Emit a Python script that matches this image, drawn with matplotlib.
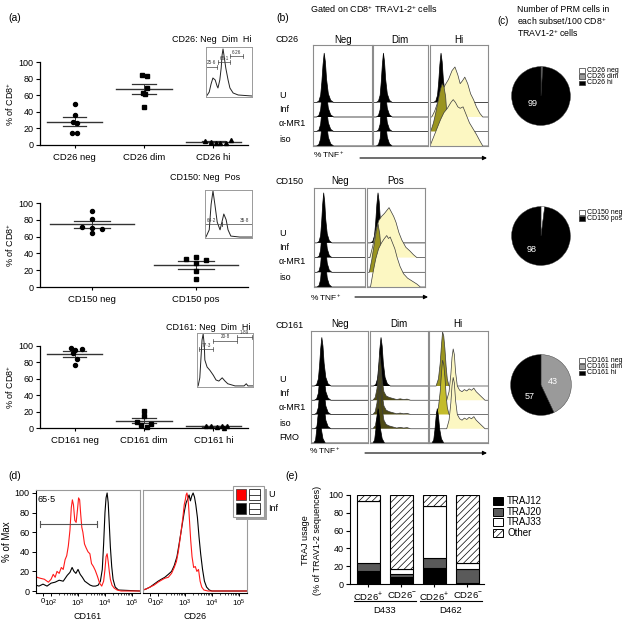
import numpy as np
import matplotlib
matplotlib.use('Agg')
import matplotlib.pyplot as plt
from matplotlib.patches import Rectangle

W, H = 627, 621
plt.rcParams['font.family'] = ['Liberation Sans', 'DejaVu Sans']
plt.rcParams['mathtext.fontset'] = 'custom'
plt.rcParams['mathtext.rm'] = 'Liberation Sans'
plt.rcParams['mathtext.it'] = 'Liberation Sans:italic'
plt.rcParams['mathtext.bf'] = 'Liberation Sans:bold'
plt.rcParams['hatch.linewidth'] = 0.5

# ---------------- data ----------------
# (a) % of CD8+ cells per donor
cd26_cats = ['CD26 neg', 'CD26 dim', 'CD26 hi']
cd26_vals = [[50, 36, 28, 26, 15, 14], [84, 83, 69, 63, 62, 46], [5, 4, 3, 3, 2, 6]]
cd150_cats = ['CD150 neg', 'CD150 pos']
cd150_vals = [[91, 81, 72, 70, 69, 64], [36, 33, 32, 28, 19, 9]]
cd161_cats = ['CD161 neg', 'CD161 dim', 'CD161 hi']
cd161_vals = [[98, 95, 96, 91, 84, 77], [21, 15, 7, 5, 4, 1], [3, 2, 1, 2, 3, 0]]

# (a) inset gate percentages and histogram traces (fraction of inset width / height)
cd26_gates = ['25·6', '68·1', '6·26']
cd150_gates = ['64·2', '35·8']
cd161_gates = ['77·3', '20·8', '1·89']
cd26_inset_x = [0.00, 0.02, 0.07, 0.11, 0.15, 0.20, 0.24, 0.26, 0.30, 0.33, 0.35, 0.37, 0.39, 0.43, 0.48, 0.52, 0.59, 0.70, 1.00]
cd26_inset_y = [0.02, 0.03, 0.10, 0.26, 0.38, 0.34, 0.22, 0.18, 0.34, 0.58, 0.84, 0.96, 0.84, 0.58, 0.34, 0.18, 0.08, 0.04, 0.02]
cd150_inset_x = [0.00, 0.02, 0.09, 0.13, 0.17, 0.21, 0.26, 0.32, 0.36, 0.40, 0.45, 0.49, 0.55, 0.74, 1.00]
cd150_inset_y = [0.02, 0.02, 0.17, 0.70, 0.98, 0.70, 0.33, 0.17, 0.33, 0.50, 0.38, 0.17, 0.04, 0.02, 0.02]
cd161_inset_x = [0.00, 0.02, 0.05, 0.09, 0.11, 0.13, 0.14, 0.18, 0.23, 0.29, 0.34, 0.39, 0.45, 0.50, 0.55, 0.68, 0.84, 0.88, 0.91, 1.00]
cd161_inset_y = [0.02, 0.02, 0.17, 0.87, 0.98, 0.78, 0.50, 0.37, 0.31, 0.22, 0.13, 0.11, 0.17, 0.11, 0.06, 0.02, 0.02, 0.06, 0.02, 0.02]

# (b) TNF histogram traces: x = fraction of box width, y = height in lane units
spike_x = [0.00, 0.06, 0.10, 0.13, 0.15, 0.17, 0.19, 0.21, 0.23, 0.26, 0.30, 0.35, 1.00]
spike_y = [0.00, 0.00, 0.10, 0.50, 1.40, 2.60, 3.40, 2.80, 1.60, 0.60, 0.15, 0.00, 0.00]
fmo_x = [0.00, 0.05, 0.08, 0.10, 0.12, 0.14, 0.16, 0.18, 0.21, 0.25, 1.00]
fmo_y = [0.00, 0.00, 0.20, 0.90, 1.80, 2.40, 1.90, 1.00, 0.30, 0.00, 0.00]
cd26hi_inf_x = [0.00, 0.03, 0.08, 0.14, 0.20, 0.26, 0.32, 0.38, 0.43, 0.48, 0.52, 0.56, 0.60, 0.65, 0.70, 0.75, 0.80, 0.86, 0.91, 1.00]
cd26hi_inf_y = [0.00, 0.00, 0.40, 1.10, 1.70, 2.20, 2.60, 3.20, 3.45, 2.90, 2.30, 2.50, 2.75, 2.30, 1.60, 1.20, 0.70, 0.25, 0.00, 0.00]
cd26hi_mr1_x = [0.00, 0.02, 0.06, 0.10, 0.14, 0.18, 0.21, 0.24, 0.27, 0.29, 0.31, 1.00]
cd26hi_mr1_y = [0.00, 0.10, 0.60, 1.30, 2.10, 2.90, 3.30, 3.10, 2.40, 1.20, 0.00, 0.00]
cd26hi_iso_x = [0.00, 0.01, 0.06, 0.12, 0.18, 0.24, 0.30, 0.36, 0.40, 0.44, 0.48, 0.52, 0.57, 0.62, 0.68, 0.74, 0.80, 0.86, 0.91, 1.00]
cd26hi_iso_y = [0.00, 0.10, 0.60, 1.20, 1.80, 2.30, 2.60, 3.00, 3.20, 3.00, 2.70, 2.60, 2.70, 2.20, 1.60, 1.20, 0.80, 0.35, 0.00, 0.00]
cd150pos_inf_x = [0.00, 0.05, 0.10, 0.15, 0.20, 0.25, 0.30, 0.34, 0.38, 0.42, 0.46, 0.50, 0.55, 0.60, 0.67, 0.74, 0.80, 0.86, 1.00]
cd150pos_inf_y = [0.00, 0.00, 0.80, 1.80, 2.50, 2.80, 3.00, 3.20, 3.40, 3.10, 2.80, 2.40, 1.70, 1.20, 0.70, 0.45, 0.20, 0.00, 0.00]
cd150pos_mr1_x = [0.00, 0.04, 0.08, 0.12, 0.16, 0.19, 0.22, 0.25, 0.28, 1.00]
cd150pos_mr1_y = [0.00, 0.00, 0.80, 1.80, 2.80, 3.30, 2.60, 1.20, 0.00, 0.00]
cd150pos_iso_x = [0.00, 0.06, 0.10, 0.15, 0.20, 0.25, 0.30, 0.34, 0.37, 0.40, 0.44, 0.48, 0.52, 0.57, 0.63, 0.70, 0.78, 0.86, 0.92, 1.00]
cd150pos_iso_y = [0.00, 0.00, 0.90, 1.90, 2.60, 3.00, 3.30, 3.50, 3.30, 3.40, 3.00, 2.60, 2.00, 1.40, 0.90, 0.60, 0.40, 0.20, 0.00, 0.00]
cd161dim_x = [0.00, 0.05, 0.09, 0.12, 0.15, 0.17, 0.19, 0.21, 0.24, 0.28, 0.33, 0.40, 0.46, 0.52, 0.58, 0.64, 0.70, 1.00]
cd161dim_y = [0.00, 0.00, 0.20, 0.80, 2.00, 3.20, 2.40, 1.40, 0.60, 0.30, 0.20, 0.12, 0.05, 0.10, 0.05, 0.08, 0.00, 0.00]
cd161hi_neg_x = [0.00, 0.12, 0.16, 0.19, 0.21, 0.23, 0.25, 0.27, 0.29, 0.31, 0.34, 1.00]
cd161hi_neg_y = [0.00, 0.00, 0.50, 1.60, 2.80, 3.80, 3.50, 2.60, 1.40, 0.50, 0.00, 0.00]
cd161hi_pos_x = [0.00, 0.30, 0.34, 0.37, 0.39, 0.41, 0.43, 0.45, 0.48, 0.52, 0.56, 0.60, 0.64, 0.68, 0.72, 0.76, 0.80, 0.85, 0.90, 0.95, 1.00]
cd161hi_pos_y = [0.00, 0.00, 0.60, 1.80, 3.00, 3.60, 3.20, 2.00, 1.00, 0.70, 0.60, 0.75, 0.65, 0.80, 0.70, 0.85, 0.60, 0.40, 0.20, 0.00, 0.00]

# (c) PRM cells in each subset / 100 CD8+ TRAV1-2+ cells
pie_cd26_labels = ['CD26 neg', 'CD26 dim', 'CD26 hi']
pie_cd26 = [0.4, 0.6, 99]
pie_cd150_labels = ['CD150 neg', 'CD150 pos']
pie_cd150 = [2, 98]
pie_cd161_labels = ['CD161 neg', 'CD161 dim', 'CD161 hi']
pie_cd161 = [0, 43, 57]

# (d) % of max vs. fluorescence (biexponential decades)
flow_ticks = [1.70, 2, 3, 4, 5]
flow_ticklabels = ['0', '$10^2$', '$10^3$', '$10^4$', '$10^5$']
cd161_u_red = [1.44, 1.45, 1.47, 1.6, 1.75, 1.9, 2.0, 2.08, 2.15, 2.22, 2.3, 2.38, 2.45, 2.52, 2.58, 2.64, 2.7, 2.75, 2.79, 2.83, 2.88, 2.93, 2.98, 3.02, 3.06, 3.1, 3.14, 3.18, 3.24, 3.3, 3.37, 3.44, 3.5, 3.57, 3.64, 3.72, 3.8, 3.88, 3.95, 4.0, 4.04, 4.08, 4.12, 4.16, 4.2, 4.26, 4.34, 4.45, 4.6, 5.3]
cd161_y_red = [103, 16, 14, 13, 12, 9, 12, 17, 14, 20, 18, 24, 22, 32, 36, 46, 62, 85, 93, 88, 72, 70, 83, 95, 93, 78, 65, 60, 48, 44, 40, 38, 28, 25, 21, 15, 8, 5, 10, 22, 35, 38, 30, 20, 12, 6, 3, 1, 0, 0]
cd161_u_blk = [1.44, 1.55, 1.7, 1.85, 2.0, 2.15, 2.3, 2.45, 2.6, 2.7, 2.78, 2.85, 2.92, 3.0, 3.08, 3.16, 3.25, 3.35, 3.45, 3.55, 3.65, 3.75, 3.83, 3.9, 3.95, 4.0, 4.04, 4.08, 4.12, 4.16, 4.2, 4.25, 4.3, 4.38, 4.5, 5.3]
cd161_y_blk = [6, 5, 7, 5, 8, 9, 11, 10, 16, 19, 24, 20, 18, 22, 17, 14, 10, 8, 6, 5, 5, 6, 10, 22, 48, 80, 95, 100, 90, 68, 45, 25, 12, 4, 1, 0]
cd26_u_red = [1.44, 1.55, 1.7, 1.85, 2.0, 2.12, 2.25, 2.38, 2.5, 2.6, 2.68, 2.75, 2.8, 2.86, 2.92, 2.97, 3.01, 3.04, 3.07, 3.1, 3.13, 3.17, 3.21, 3.26, 3.32, 3.38, 3.44, 3.5, 3.56, 3.62, 3.7, 3.85, 5.3]
cd26_y_red = [1, 2, 4, 6, 9, 11, 13, 14, 18, 24, 30, 40, 50, 62, 75, 88, 93, 98, 100, 96, 88, 70, 52, 35, 24, 25, 20, 22, 10, 4, 1, 0, 0]
cd26_u_blk = [1.44, 1.55, 1.7, 1.85, 2.0, 2.12, 2.25, 2.38, 2.5, 2.6, 2.7, 2.78, 2.85, 2.92, 2.98, 3.04, 3.1, 3.15, 3.2, 3.25, 3.3, 3.35, 3.4, 3.46, 3.52, 3.58, 3.65, 3.72, 3.8, 3.9, 4.0, 5.3]
cd26_y_blk = [1, 2, 4, 7, 10, 12, 14, 17, 20, 26, 35, 48, 60, 72, 82, 90, 94, 98, 92, 97, 100, 96, 88, 75, 55, 38, 22, 10, 4, 1, 0, 0]
cd161_gate_pct = '65·5'

# (e) TRAJ usage (% of TRAV1-2 sequences)
traj_conds = ['CD26$^{+}$', 'CD26$^{-}$', 'CD26$^{+}$', 'CD26$^{-}$']
traj_donors = ['D433', 'D462']
traj12 = [15, 8, 18, 1]
traj20 = [9, 3, 11, 16]
traj33 = [69, 6, 59, 7]
traj_other = [100 - a - b - c for a, b, c in zip(traj12, traj20, traj33)]

# ---------------- figure ----------------
fig = plt.figure(figsize=(W / 100, H / 100), dpi=100)


def add_ax(x0, y0, x1, y1):
    return fig.add_axes([x0 / W, 1 - y1 / H, (x1 - x0) / W, (y1 - y0) / H])


FS = 6.5
MARKERS = ['o', 's', '^']

# ---- (a) scatter plots ----
def scatter_panel(top, bottom, cats, vals, jit):
    ax = add_ax(40, top, 248, bottom)
    n = len(cats)
    for i, v in enumerate(vals):
        v = np.asarray(v, float)
        xs = i + np.asarray(jit[i])
        ax.plot(xs, v, MARKERS[i], ms=2.9, color='k', clip_on=False, zorder=4)
        m = v.mean()
        sem = v.std(ddof=1) / np.sqrt(len(v))
        ax.plot([i - 0.4, i + 0.4], [m, m], color='#333333', lw=1.0, zorder=3, clip_on=False)
        for yy in (m - sem, m + sem):
            ax.plot([i - 0.17, i + 0.17], [yy, yy], color='#333333', lw=0.9, zorder=3, clip_on=False)
        ax.plot([i, i], [m - sem, m + sem], color='#333333', lw=0.7, zorder=3, clip_on=False)
    ax.set_xlim(-0.5, n - 0.5)
    ax.set_ylim(0, 100)
    ax.set_yticks(range(0, 101, 20))
    ax.set_xticks(range(n))
    ax.set_xticklabels(cats, fontsize=FS + 0.3)
    ax.tick_params(axis='y', labelsize=FS, length=3, width=0.8, pad=1.5)
    ax.tick_params(axis='x', length=2.5, width=0.8, pad=3)
    for s in ('top', 'right'):
        ax.spines[s].set_visible(False)
    for s in ('left', 'bottom'):
        ax.spines[s].set_linewidth(0.9)
    ax.set_ylabel('% of CD8$^{+}$', fontsize=FS, labelpad=2)
    return ax


scatter_panel(62, 145, cd26_cats, cd26_vals,
              [[0, 0, -0.03, 0.04, 0.04, -0.04], [-0.03, 0.04, 0.04, -0.02, 0.02, 0.0], [-0.12, -0.04, 0.04, 0.1, 0.18, 0.25]])
scatter_panel(203, 287, cd150_cats, cd150_vals,
              [[0, 0, -0.1, 0.0, 0.1, 0.0], [0.0, -0.1, 0.1, 0.0, 0.0, 0.0]])
scatter_panel(346, 428, cd161_cats, cd161_vals,
              [[-0.06, 0.0, 0.1, -0.02, 0.04, 0.0], [0.0, 0.0, -0.1, 0.1, -0.04, 0.04], [-0.1, -0.03, 0.05, 0.12, 0.2, 0.15]])


def inset(x0, y0, x1, y1, cx, cy, gates, labels, label_x):
    ax = add_ax(x0, y0, x1, y1)
    ax.plot(cx, cy, color='#222222', lw=0.7)
    ax.set_xlim(0, 1)
    ax.set_ylim(0, 1)
    ax.set_xticks([])
    ax.set_yticks([])
    for s in ax.spines.values():
        s.set_color('#9a9a9a')
        s.set_linewidth(0.7)
    for (xa, xb, yg), lab, lx in zip(gates, labels, label_x):
        ax.plot([xa, xb], [yg, yg], color='#444444', lw=0.5, clip_on=False)
        ax.plot([xa, xa], [yg - 0.04, yg + 0.04], color='#444444', lw=0.5, clip_on=False)
        ax.plot([xb, xb], [yg - 0.04, yg + 0.04], color='#444444', lw=0.5, clip_on=False)
        ax.text(lx, yg + 0.03, lab, fontsize=3.3, ha='center', va='bottom', color='#333333', clip_on=False)


inset(206, 47, 252, 97, cd26_inset_x, cd26_inset_y,
      [(0.0, 0.24, 0.60), (0.26, 0.52, 0.70), (0.52, 0.80, 0.82)], cd26_gates, [0.12, 0.39, 0.66])
inset(205, 190, 252, 238, cd150_inset_x, cd150_inset_y,
      [(0.0, 0.36, 0.29), (0.36, 1.0, 0.29)], cd150_gates, [0.14, 0.84])
inset(197, 333, 253, 387, cd161_inset_x, cd161_inset_y,
      [(0.04, 0.29, 0.70), (0.29, 0.71, 0.85), (0.71, 0.98, 0.93)], cd161_gates, [0.16, 0.5, 0.85])

# ---- (b) offset histograms ----
SHAPES = {
    'spike': (spike_x, spike_y), 'fmo': (fmo_x, fmo_y),
    'c26i': (cd26hi_inf_x, cd26hi_inf_y), 'c26m': (cd26hi_mr1_x, cd26hi_mr1_y), 'c26s': (cd26hi_iso_x, cd26hi_iso_y),
    'c150i': (cd150pos_inf_x, cd150pos_inf_y), 'c150m': (cd150pos_mr1_x, cd150pos_mr1_y), 'c150s': (cd150pos_iso_x, cd150pos_iso_y),
    'dim': (cd161dim_x, cd161dim_y), 'hneg': (cd161hi_neg_x, cd161hi_neg_y), 'hpos': (cd161hi_pos_x, cd161hi_pos_y),
}
BLK = '#000000'
OLV = '#9a9420'
BOLV = '#c4bc2c'
DOLV = '#4e4a14'
PALE = '#fcf7c2'


def hist_box(x0, x1, top, bottom, lane_px, lanes):
    ax = add_ax(x0, top, x1, bottom)
    n = len(lanes)
    ax.set_xlim(0, 1)
    ax.set_ylim(0, (bottom - top) / lane_px)
    for i, items in enumerate(lanes):
        base = n - 1 - i
        for name, col in items:
            sx, sy = SHAPES[name]
            yy = base + np.asarray(sy, float)
            ax.fill_between(sx, base, yy, facecolor=col, edgecolor='none', zorder=2 + 2 * i)
            ax.plot(sx, yy, color='#000000' if col == BLK else '#3a3a3a', lw=0.5, zorder=3 + 2 * i)
    for s in ax.spines.values():
        s.set_color('#8c8c8c')
        s.set_linewidth(0.8)
        s.set_zorder(30)
    ax.set_xticks([])
    ax.set_yticks([])
    return ax


sp = [('spike', BLK)]
# row CD26
hist_box(313, 372, 45, 146, 14.5, [sp, sp, sp, sp])
hist_box(373, 428, 45, 146, 14.5, [sp, sp, sp, sp])
hist_box(430, 488, 45, 146, 14.5, [sp, [('c26i', PALE)], [('c26m', OLV)], [('c26s', PALE)]])
# row CD150
hist_box(314, 365, 188, 287, 14.7, [sp, sp, sp, sp])
hist_box(367, 425, 188, 287, 14.7, [sp, [('c150i', PALE)], [('c150m', OLV)], [('c150s', PALE)]])
# row CD161
hist_box(311, 368, 331, 443, 14.25, [sp, sp, sp, sp, [('fmo', BLK)]])
hist_box(370, 428, 331, 443, 14.25, [sp, [('dim', DOLV)], [('dim', DOLV)], [('dim', DOLV)], [('fmo', BLK)]])
hist_box(429, 488, 331, 443, 14.25, [[('hneg', OLV)], [('hpos', PALE)], [('hneg', BOLV)], [('hpos', PALE)], [('fmo', BLK)]])

# ---- (c) pies ----
def pie(cx, cy, r, vals, cols, txts):
    ax = add_ax(cx - r, cy - r, cx + r, cy + r)
    ax.pie(vals, colors=cols, startangle=90, counterclock=False, radius=1,
           wedgeprops=dict(edgecolor='#333333', linewidth=0.3))
    ax.set_xlim(-1.02, 1.02)
    ax.set_ylim(-1.02, 1.02)
    ax.axis('off')
    for (dx, dy, s) in txts:
        ax.text(dx, dy, s, color='white', fontsize=6.5, ha='center', va='center')
    return ax


pie(541, 96, 30, pie_cd26, ['white', '#9a9a9a', 'black'], [(-0.28, -0.25, '99')])
pie(541, 236, 30, pie_cd150, ['white', 'black'], [(-0.32, -0.45, '98')])
pie(541, 385, 31, pie_cd161, ['white', '#9a9a9a', 'black'], [(0.4, 0.12, '43'), (-0.38, -0.38, '57')])

# ---- (d) flow overlays ----
def flow_panel(x0, x1, xlab, ur, yr, ub, yb, first):
    ax = add_ax(x0, 490, x1, 593)
    ax.plot(ub, yb, color='black', lw=0.8)
    ax.plot(ur, yr, color='#ff1a1a', lw=0.8)
    ax.set_xlim(1.44, 5.3)
    ax.set_ylim(-2.04, 103.06)
    ax.set_xticks(flow_ticks)
    ax.set_xticklabels(flow_ticklabels, fontsize=5.6)
    minors = [k + np.log10(m) for k in (2, 3, 4) for m in range(2, 10)]
    ax.set_xticks(minors, minor=True)
    ax.tick_params(axis='x', which='major', length=2.5, width=0.7, pad=1)
    ax.tick_params(axis='x', which='minor', length=1.5, width=0.5)
    ax.set_xlabel(xlab, fontsize=6.5, labelpad=2)
    for s in ('top', 'right'):
        ax.spines[s].set_color('#9a9a9a')
    ax.spines['bottom'].set_linewidth(0.8)
    if first:
        ax.set_yticks(range(0, 101, 20))
        ax.tick_params(axis='y', labelsize=FS, length=3, width=0.7, pad=1.5)
        ax.set_ylabel('% of Max', fontsize=FS + 0.5, labelpad=2)
    else:
        ax.set_yticks([])
        ax.spines['left'].set_color('#9a9a9a')
    return ax


axd1 = flow_panel(36, 140, 'CD161', cd161_u_red, cd161_y_red, cd161_u_blk, cd161_y_blk, True)
gx = [1.59, 3.70]
axd1.plot(gx, [68, 68], color='#555555', lw=0.8)
for g in gx:
    axd1.plot([g, g], [65, 71], color='#555555', lw=0.8)
axd1.text(1.5, 93, cd161_gate_pct, fontsize=FS, ha='left', va='center')
flow_panel(143, 247, 'CD26', cd26_u_red, cd26_y_red, cd26_u_blk, cd26_y_blk, False)

# ---- (e) stacked bars ----
axe = add_ax(350, 495, 484, 584)
xb = np.arange(len(traj12))
b1 = np.array(traj12, float)
b2 = b1 + np.array(traj20)
b3 = b2 + np.array(traj33)
kw = dict(width=0.7, edgecolor='black', linewidth=0.8)
axe.bar(xb, traj12, color='black', **kw)
axe.bar(xb, traj20, bottom=b1, color='#5a5a5a', **kw)
axe.bar(xb, traj33, bottom=b2, color='white', **kw)
axe.bar(xb, traj_other, bottom=b3, color='white', hatch='/////', **kw)
axe.set_xlim(-0.56, 3.5)
axe.set_ylim(0, 100)
axe.set_yticks(range(0, 101, 20))
axe.set_xticks(xb)
axe.set_xticklabels(traj_conds, fontsize=FS + 0.3)
axe.tick_params(axis='y', labelsize=FS, length=3, width=0.8, pad=1.5)
axe.tick_params(axis='x', length=2.5, width=0.8, pad=2)
for s in ('top', 'right'):
    axe.spines[s].set_visible(False)
trx = axe.get_xaxis_transform()
for g, name in enumerate(traj_donors):
    xa, xb2 = 2 * g - 0.45, 2 * g + 1.45
    axe.plot([xa, xb2], [-0.19, -0.19], transform=trx, clip_on=False, color='black', lw=0.8)
    axe.text(2 * g + 0.5, -0.30, name, transform=trx, ha='center', va='center', fontsize=FS + 0.3)

# ---------------- overlay (pixel coordinates) ----------------
ov = fig.add_axes([0, 0, 1, 1])
ov.set_xlim(0, W)
ov.set_ylim(H, 0)
ov.axis('off')


def T(x, y, s, **kw):
    kw.setdefault('fontsize', FS)
    kw.setdefault('va', 'center')
    ov.text(x, y, s, **kw)


def arrow(xa, xb, y):
    ov.annotate('', xy=(xb, y), xytext=(xa, y),
                arrowprops=dict(arrowstyle='-|>', lw=0.8, color='black', mutation_scale=6, shrinkA=0, shrinkB=0))


# panel letters
T(8, 18, '(a)', fontsize=7.5)
T(276, 18, '(b)', fontsize=7.5)
T(497, 21, '(c)', fontsize=7)
T(8, 476, '(d)', fontsize=7.5)
T(285, 476, '(e)', fontsize=7.5)

# (a) headers
T(251, 40, 'CD26: Neg  Dim  Hi', ha='right')
T(240, 178, 'CD150: Neg  Pos', ha='right')
T(251, 327, 'CD161: Neg  Dim  Hi', ha='right')

# (b) texts
T(310, 9, 'Gated on CD8$^{+}$ TRAV1-2$^{+}$ cells')
T(275, 40, 'CD26')
T(275, 182, 'CD150')
T(275, 325, 'CD161')
for x, s in [(343, 'Neg'), (400, 'Dim'), (459, 'Hi')]:
    T(x, 40, s, ha='center', fontsize=7)
for x, s in [(340, 'Neg'), (396, 'Pos')]:
    T(x, 181, s, ha='center', fontsize=7)
for x, s in [(340, 'Neg'), (399, 'Dim'), (458, 'Hi')]:
    T(x, 324, s, ha='center', fontsize=7)
for y, s in zip([95, 110, 124, 139], ['U', 'Inf', 'α-MR1', 'iso']):
    T(279, y, s)
for y, s in zip([233, 248, 262, 277], ['U', 'Inf', 'α-MR1', 'iso']):
    T(279, y, s)
for y, s in zip([379, 394, 408, 423, 438], ['U', 'Inf', 'α-MR1', 'iso', 'FMO']):
    T(279, y, s)
T(313, 155, '% TNF$^{+}$', fontsize=6)
arrow(360, 487, 158)
T(310, 298, '% TNF$^{+}$', fontsize=6)
arrow(355, 428, 297)
T(309, 451, '% TNF$^{+}$', fontsize=6)
arrow(365, 487, 453)

# (c) title and legends
T(517, 9, 'Number of PRM cells in', fontsize=6.3)
T(517, 21, 'each subset/100 CD8$^{+}$', fontsize=6.3)
T(517, 33, 'TRAV1-2$^{+}$ cells', fontsize=6.3)


def pie_legend(y0, labels, cols):
    for k, (lab, c) in enumerate(zip(labels, cols)):
        y = y0 + 6.3 * k
        ov.add_patch(Rectangle((579, y - 2), 6, 4.5, facecolor=c, edgecolor='#333333', lw=0.5))
        T(587, y + 0.3, lab, fontsize=5.0)


pie_legend(70, pie_cd26_labels, ['white', '#9a9a9a', 'black'])
pie_legend(212, pie_cd150_labels, ['white', 'black'])
pie_legend(360, pie_cd161_labels, ['white', '#9a9a9a', 'black'])

# (d) legend
ov.add_patch(Rectangle((235.5, 488.5), 31, 31, facecolor='#a0a0a0', edgecolor='none'))
ov.add_patch(Rectangle((233, 486), 31, 31, facecolor='white', edgecolor='#9a9a9a', lw=0.8))
for y0, c, lab in [(489, '#ff0000', 'U'), (503, 'black', 'Inf')]:
    ov.add_patch(Rectangle((236, y0), 10, 11, facecolor=c, edgecolor='#333333', lw=0.5))
    ov.add_patch(Rectangle((249, y0), 11, 11, facecolor='white', edgecolor='#222222', lw=0.6))
    ov.plot([249, 260], [y0 + 5.5, y0 + 5.5], color='#222222', lw=0.6)
    T(268, y0 + 5.5, lab)

# (e) ylabel and legend
T(305, 540, 'TRAJ usage', rotation=90, ha='center')
T(318, 540, '(% of TRAV1-2 sequences)', rotation=90, ha='center')
for k, (lab, c, h) in enumerate([('TRAJ12', 'black', ''), ('TRAJ20', '#5a5a5a', ''),
                                  ('TRAJ33', 'white', ''), ('Other', 'white', '/////')]):
    y = 501 + 10.7 * k
    ov.add_patch(Rectangle((493, y - 4), 10, 8, facecolor=c, edgecolor='black', lw=0.7, hatch=h))
    T(507, y, lab, fontsize=7)

fig.savefig('out.png', dpi=100)
